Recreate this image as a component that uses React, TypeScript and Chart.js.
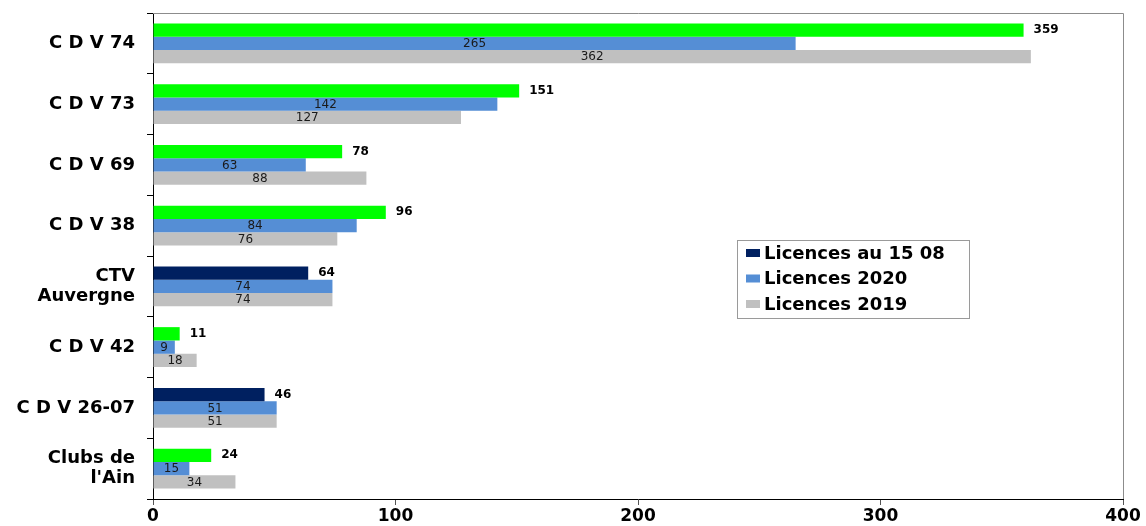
import React, { useEffect, useRef } from 'react';
import { Chart, registerables } from 'chart.js';

Chart.register(...registerables);

const categories: (string | string[])[] = [
  'C D V 74',
  'C D V 73',
  'C D V 69',
  'C D V 38',
  ['CTV', 'Auvergne'],
  'C D V 42',
  'C D V 26-07',
  ['Clubs de', "l'Ain"],
];
const seriesLabels = ['Licences au 15 08', 'Licences 2020', 'Licences 2019'];
const licences1508 = [359, 151, 78, 96, 64, 11, 46, 24];
const licences2020 = [265, 142, 63, 84, 74, 9, 51, 15];
const licences2019 = [362, 127, 88, 76, 74, 18, 51, 34];
// true = bar drawn in green, false = drawn in navy (series colour)
const greenBars = [true, true, true, true, false, true, false, true];
const xTickValues = [0, 100, 200, 300, 400];

const GREEN = '#00FF00';
const NAVY = '#002060';
const BLUE = '#558ED5';
const GREY = '#C0C0C0';
const FONT = '"DejaVu Sans", "Liberation Sans", Arial, sans-serif';

const labelsPlugin = {
  id: 'valueLabels',
  afterDatasetsDraw(chart: any) {
    const ctx = chart.ctx;
    ctx.save();
    ctx.textBaseline = 'middle';
    chart.data.datasets.forEach((ds: any, di: number) => {
      const meta = chart.getDatasetMeta(di);
      meta.data.forEach((el: any, i: number) => {
        const v = ds.data[i];
        if (di === 0) {
          ctx.font = `bold 12px ${FONT}`;
          ctx.fillStyle = '#000';
          ctx.textAlign = 'left';
          ctx.fillText(String(v), el.x + 10, el.y);
        } else {
          ctx.font = `12px ${FONT}`;
          ctx.fillStyle = '#1a1a1a';
          ctx.textAlign = 'center';
          ctx.fillText(String(v), (el.x + el.base) / 2, el.y + 0.5);
        }
      });
    });
    ctx.restore();
  },
};

const framePlugin = {
  id: 'frame',
  beforeDatasetsDraw(chart: any) {
    const { ctx, chartArea } = chart;
    ctx.save();
    ctx.strokeStyle = '#8c8c8c';
    ctx.lineWidth = 1;
    ctx.beginPath();
    ctx.moveTo(chartArea.left, chartArea.top + 0.5);
    ctx.lineTo(chartArea.right + 0.5, chartArea.top + 0.5);
    ctx.lineTo(chartArea.right + 0.5, chartArea.bottom);
    ctx.stroke();
    ctx.restore();
  },
};

const legendPlugin = {
  id: 'boxLegend',
  afterDraw(chart: any) {
    const ctx = chart.ctx;
    const x = 737;
    const y = 240;
    const w = 232;
    const h = 78;
    const colours = [NAVY, BLUE, GREY];
    ctx.save();
    ctx.fillStyle = '#fff';
    ctx.fillRect(x, y, w, h);
    ctx.strokeStyle = '#9a9a9a';
    ctx.lineWidth = 1;
    ctx.strokeRect(x + 0.5, y + 0.5, w, h);
    ctx.font = `bold 18px ${FONT}`;
    ctx.textBaseline = 'middle';
    ctx.textAlign = 'left';
    seriesLabels.forEach((lab, i) => {
      const cy = y + 13 + i * 25.5;
      ctx.fillStyle = colours[i];
      ctx.fillRect(x + 9, cy - 4, 14, 8);
      ctx.fillStyle = '#000';
      ctx.fillText(lab, x + 27, cy + 1);
    });
    ctx.restore();
  },
};

export default function App() {
  const canvasRef = useRef<HTMLCanvasElement | null>(null);

  useEffect(() => {
    document.body.style.margin = '0';
    const canvas = canvasRef.current;
    if (!canvas) return;
    const chart = new Chart(canvas, {
      type: 'bar',
      data: {
        labels: categories,
        datasets: [
          {
            label: seriesLabels[0],
            data: licences1508,
            backgroundColor: greenBars.map((g) => (g ? GREEN : NAVY)),
            categoryPercentage: 0.658,
            barPercentage: 1,
          },
          {
            label: seriesLabels[1],
            data: licences2020,
            backgroundColor: BLUE,
            categoryPercentage: 0.658,
            barPercentage: 1,
          },
          {
            label: seriesLabels[2],
            data: licences2019,
            backgroundColor: GREY,
            categoryPercentage: 0.658,
            barPercentage: 1,
          },
        ],
      },
      options: {
        indexAxis: 'y',
        responsive: false,
        animation: false,
        devicePixelRatio: 1,
        layout: { padding: { top: 13, right: 23, left: 0, bottom: 0 } },
        plugins: {
          legend: { display: false },
          tooltip: { enabled: false },
          title: { display: false },
        },
        scales: {
          x: {
            min: 0,
            max: 400,
            afterBuildTicks(scale: any) {
              scale.ticks = xTickValues.map((v) => ({ value: v }));
            },
            afterFit(scale: any) {
              scale.height = 27;
              scale.paddingLeft = 0;
              scale.paddingRight = 0;
            },
            grid: {
              drawOnChartArea: false,
              drawTicks: true,
              tickLength: 6,
              color: '#555',
            },
            border: { display: true, color: '#000', width: 1 },
            ticks: {
              padding: 1,
              color: '#000',
              font: { family: FONT, size: 17, weight: 'bold' },
            },
          },
          y: {
            afterFit(scale: any) {
              scale.width = 153;
              scale.paddingTop = 0;
              scale.paddingBottom = 0;
            },
            grid: {
              offset: true,
              drawOnChartArea: false,
              drawTicks: true,
              tickLength: 6,
              color: '#000',
            },
            border: { display: true, color: '#000', width: 1 },
            ticks: {
              padding: 12,
              color: '#000',
              font: { family: FONT, size: 18, weight: 'bold', lineHeight: 1.1 },
            },
          },
        },
      },
      plugins: [framePlugin, labelsPlugin, legendPlugin],
    } as any);
    return () => chart.destroy();
  }, []);

  return (
    <div style={{ position: 'absolute', left: 0, top: 0, width: 1146, height: 526 }}>
      <canvas ref={canvasRef} width={1146} height={526} />
    </div>
  );
}
